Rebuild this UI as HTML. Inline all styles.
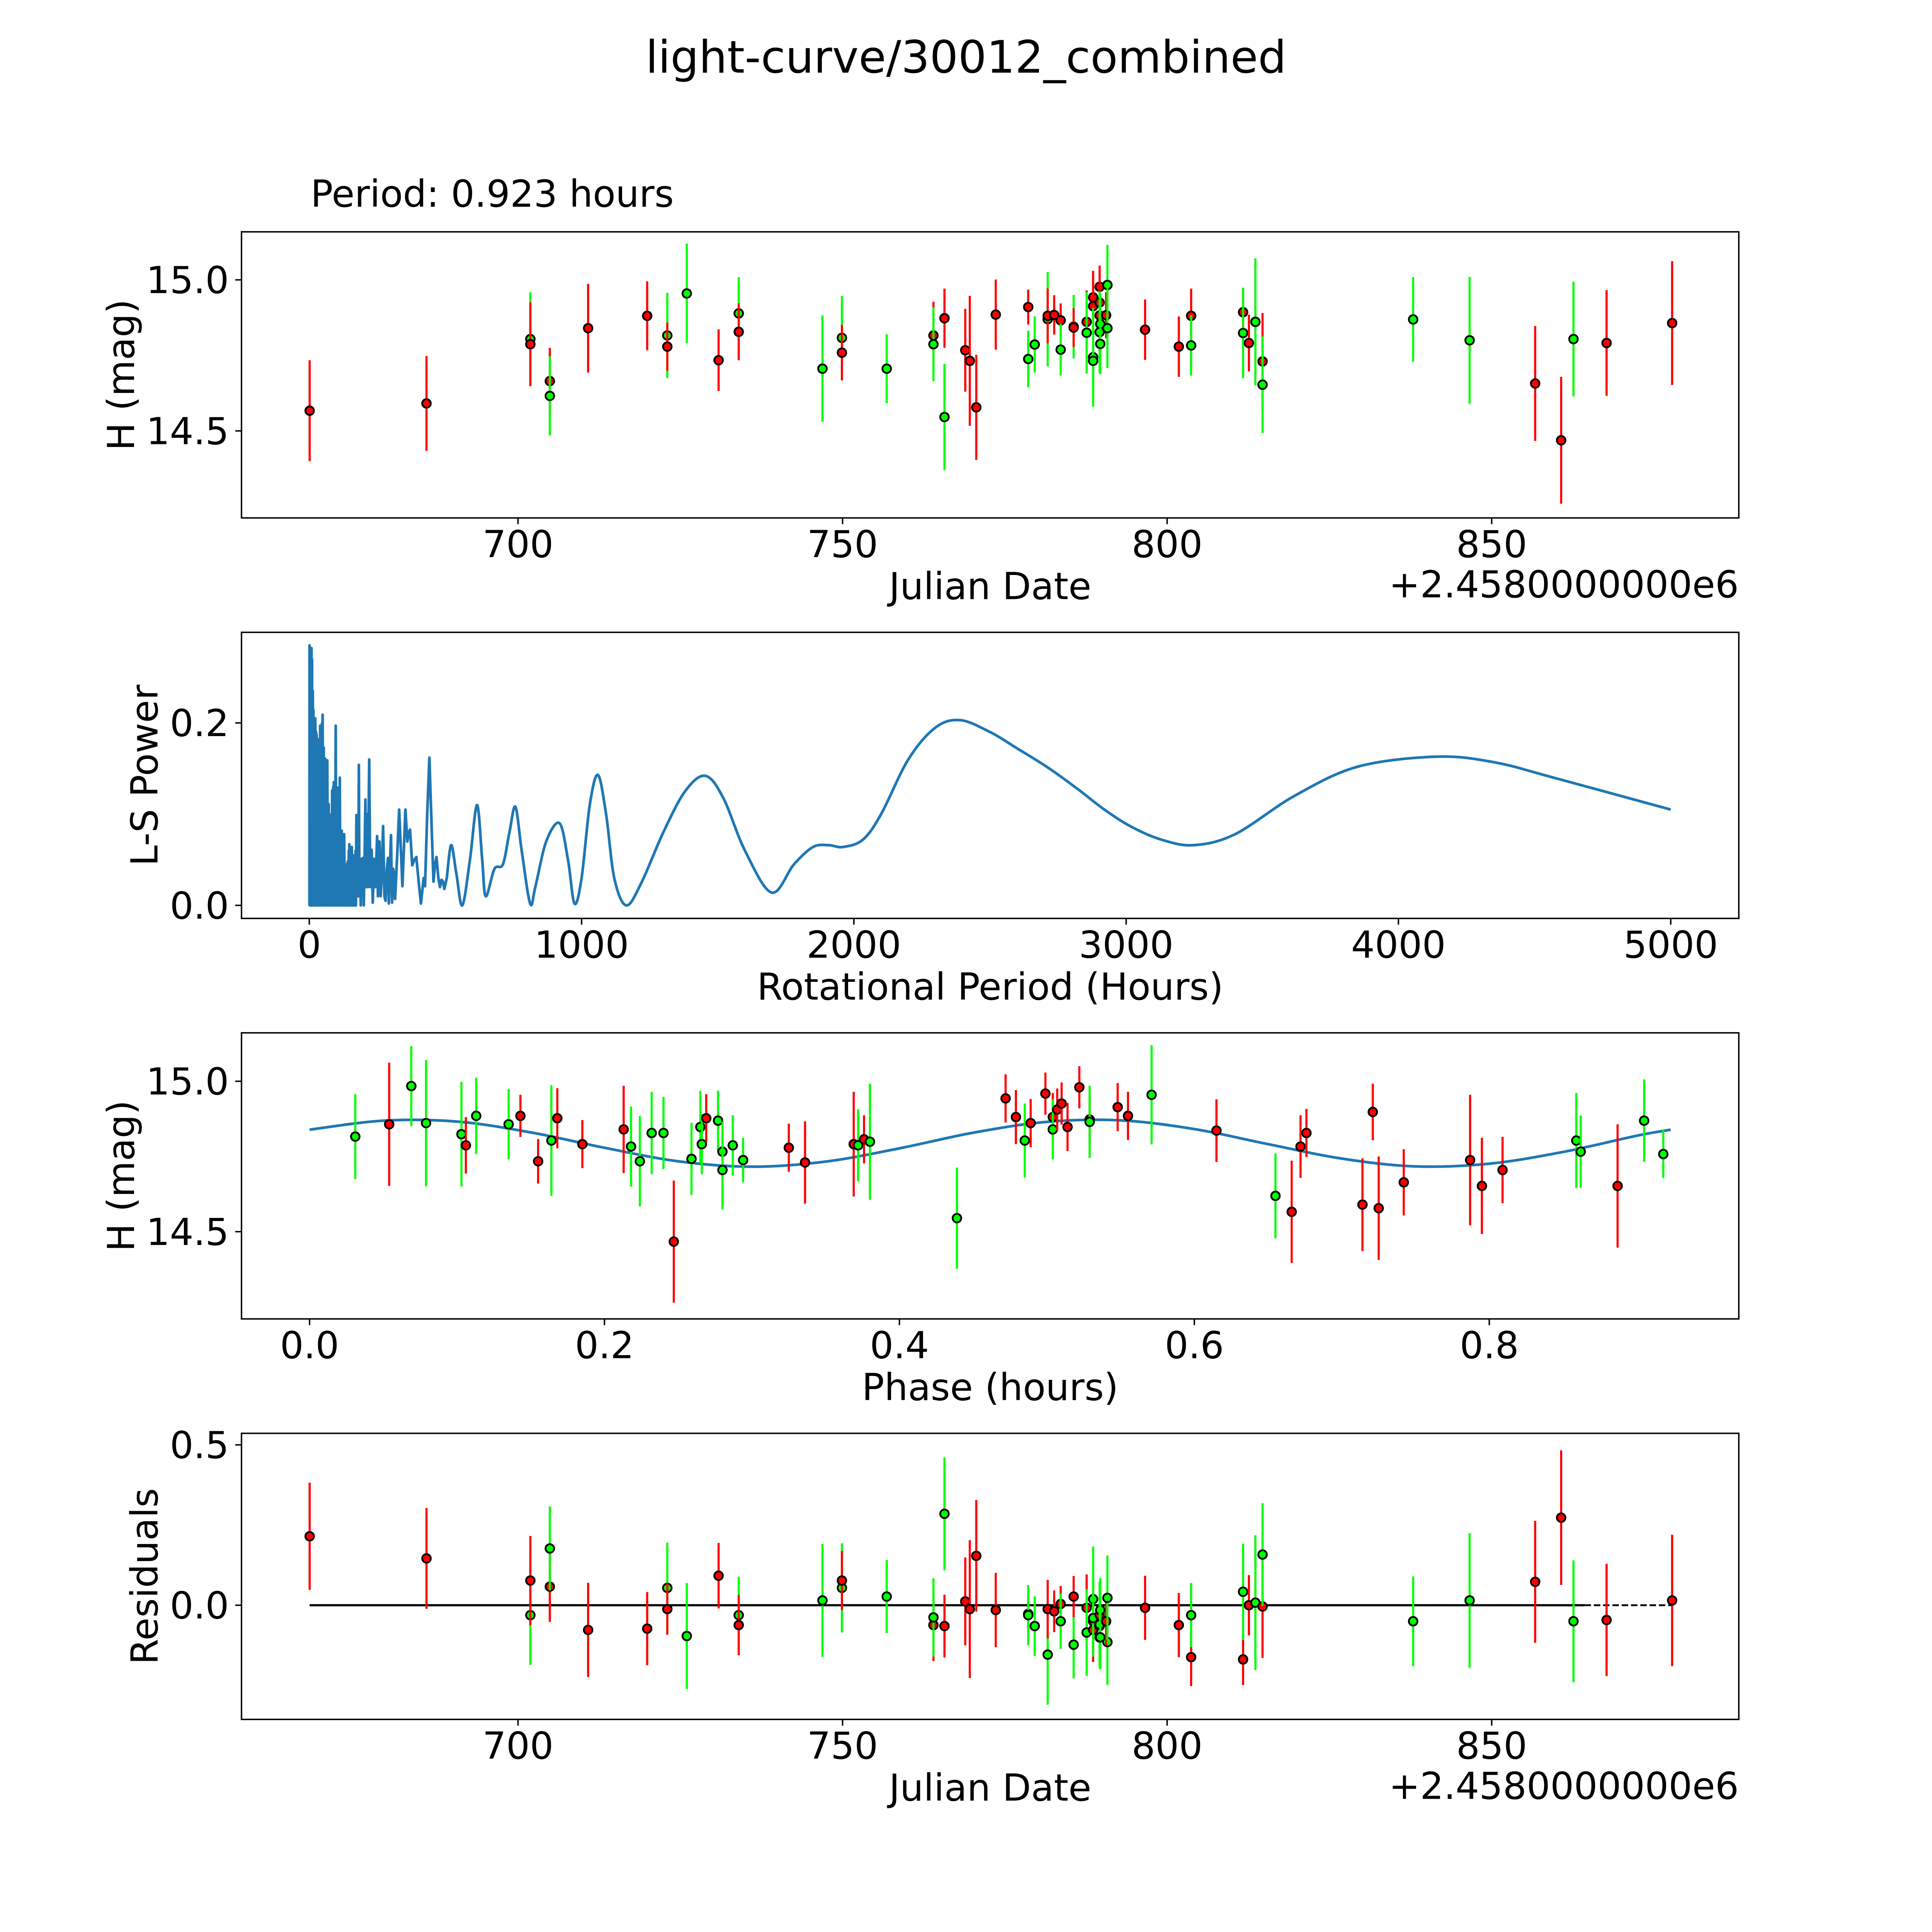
<!DOCTYPE html>
<html><head><meta charset="utf-8"><title>light-curve/30012_combined</title>
<style>html,body{margin:0;padding:0;background:#fff;overflow:hidden;width:100vw;height:100vh;}svg{display:block;width:100vw;height:100vh;}text{font-family:"DejaVu Sans","Liberation Sans",sans-serif;fill:#000;}</style>
</head><body>
<svg id="fig" xmlns="http://www.w3.org/2000/svg" viewBox="0 0 5400 5400" preserveAspectRatio="none">
<rect width="5400" height="5400" fill="#fff"/>
<text x="2700" y="203" font-size="125" text-anchor="middle">light-curve/30012_combined</text>
<text x="868" y="578" font-size="104">Period: 0.923 hours</text>
</svg>
<script>
// ---- light curve data (Julian date offset, H mag, error, filter color) ----
const dates=[667.9,685.9,701.9,701.9,704.9,704.9,710.8,719.9,723.0,723.0,726.0,730.9,734.0,734.0,746.9,749.9,749.9,756.8,764.0,764.0,765.7,765.7,768.9,769.6,770.6,773.6,778.6,778.6,779.6,781.6,781.6,782.6,783.6,783.6,785.6,785.6,787.6,787.6,788.6,788.6,788.6,788.6,789.6,789.6,789.6,789.7,789.6,789.7,790.8,790.6,790.8,796.6,801.8,803.7,803.7,811.7,811.7,812.6,813.6,814.7,814.7,837.9,846.6,856.7,860.7,862.6,867.7,877.8];
const mags=[14.567,14.591,14.804,14.787,14.665,14.616,14.840,14.881,14.816,14.779,14.955,14.734,14.889,14.828,14.706,14.808,14.759,14.706,14.816,14.787,14.873,14.546,14.767,14.732,14.578,14.885,14.910,14.738,14.786,14.870,14.881,14.884,14.866,14.769,14.845,14.842,14.861,14.825,14.942,14.913,14.744,14.732,14.977,14.925,14.882,14.854,14.827,14.788,14.983,14.883,14.840,14.835,14.779,14.881,14.783,14.893,14.824,14.791,14.861,14.730,14.653,14.869,14.800,14.657,14.469,14.804,14.791,14.857];
const magErrs=[.167,.157,.155,.139,.110,.131,.147,.114,.141,.080,.165,.102,.12,.094,.176,.139,.092,.114,.112,.122,.098,.176,.137,.215,.174,.116,.058,.094,.093,.156,.091,.065,.056,.086,.105,.064,.104,.135,.088,.1,.164,.12,.07,.105,.1,.1,.134,.1,.133,.076,.132,.1,.1,.09,.1,.08,.15,.094,.21,.16,.16,.14,.21,.19,.21,.19,.175,.205];
const filterColors="rrgrrgrrgrgrgrggrgrgrgrrrrrgggrrrggrrgrrggrrrggggrgrrrgrgrgrgggrrgrr".split("");
const residuals=[0.215,0.146,-0.031,0.077,0.058,0.177,-0.077,-0.073,0.054,-0.012,-0.096,0.092,-0.031,-0.062,0.015,0.054,0.077,0.027,-0.062,-0.038,-0.065,0.285,0.012,-0.012,0.154,-0.015,-0.027,-0.031,-0.065,-0.154,-0.012,-0.019,0.004,-0.050,-0.123,0.027,-0.008,-0.085,-0.050,-0.077,0.019,-0.04,-0.1,-0.065,-0.03,-0.015,-0.06,-0.1,-0.115,-0.05,0.023,-0.008,-0.062,-0.162,-0.031,-0.169,0.042,0.0,0.008,-0.004,0.158,-0.05,0.015,0.073,0.273,-0.05,-0.046,0.015];
const residZeroSolid=[667.9,864.3];
const residZeroDashed=[864.3,877.8];
// ---- phased data ----
const phases=[0.031,0.054,0.069,0.079,0.103,0.106,0.113,0.135,0.143,0.155,0.164,0.168,0.185,0.213,0.218,0.224,0.232,0.24,0.247,0.259,0.265,0.266,0.269,0.277,0.28,0.28,0.287,0.294,0.325,0.336,0.369,0.372,0.376,0.38,0.439,0.472,0.479,0.485,0.489,0.499,0.504,0.504,0.507,0.510,0.514,0.522,0.529,0.529,0.548,0.555,0.571,0.615,0.655,0.666,0.672,0.676,0.714,0.721,0.725,0.742,0.787,0.795,0.809,0.859,0.862,0.887,0.905,0.918];
const phaseMags=[14.816,14.857,14.984,14.861,14.824,14.787,14.885,14.857,14.885,14.734,14.803,14.877,14.791,14.84,14.783,14.734,14.828,14.828,14.467,14.742,14.848,14.791,14.877,14.869,14.766,14.705,14.787,14.738,14.779,14.73,14.791,14.787,14.807,14.799,14.545,14.943,14.881,14.803,14.861,14.959,14.881,14.84,14.906,14.926,14.848,14.98,14.873,14.865,14.914,14.885,14.955,14.836,14.619,14.566,14.783,14.828,14.59,14.898,14.578,14.664,14.738,14.652,14.705,14.803,14.766,14.652,14.869,14.758];
const phaseErrs=[.141,.205,.133,.21,.174,.094,.127,.117,.07,.074,.184,.1,.08,.145,.133,.15,.137,.12,.203,.12,.12,.1,.08,.1,.1,.131,.1,.074,.08,.137,.174,.12,.08,.193,.168,.08,.09,.123,.08,.07,.08,.1,.07,.07,.08,.07,.08,.12,.08,.08,.165,.104,.141,.17,.104,.08,.154,.094,.172,.11,.217,.16,.11,.158,.12,.205,.137,.08];
const phaseColors="grgggrggrrgrrrggggrgggrgggggrrrgrggrrgrrrgrrrrrgrrgrgrrrrrrrrrrggrggr".split("");
const modelPhases=[0,0.05,0.10,0.15,0.20,0.25,0.30,0.35,0.40,0.45,0.50,0.55,0.60,0.65,0.70,0.75,0.80,0.85,0.90,0.923];
const modelMags=[14.839,14.869,14.866,14.830,14.779,14.734,14.716,14.733,14.777,14.829,14.865,14.870,14.841,14.791,14.743,14.717,14.726,14.765,14.819,14.839];
// ---- periodogram ----
const lsPeriods=[0.6,0.8,2,3,4,5,6,8,9,10,11,12.9,14,15,17,19,20,22,24,25,26,27,29,31,32,33,35,37,38,40,42,44,45,47,48,49,51,53,55,58,60,62,64,66,68,71,73,75,76,77,79,81,82,84,86,88,89,90,92,94,95,97,99,101,103,106,108,110,111,112,114,116,117,119,121,123,125,128,130,132,133,134,136,138,139,141,143,145,146,147,149,151,153,156,158,160,162,165,167,170,171,173,175,178,180,182,184,187,189,191,194,197,200,203,206,209,212,215,220,224,226,229,233,238,243,249,252,255,258,262,266,271,276,280,285,289,292,296,300,304,308,311,315,322,330,342,353,360,365,370,378,386,393,402,410,420,425,433,441,450,456,462,467,474,480,486,491,496,505];
const lsPowers=[0,0.285,0,0.28,0,0.28,0,0.282,0,0.27,0,0.235,0,0.214,0,0.2,0,0.205,0,0.19,0,0.187,0,0.17,0,0.182,0,0.16,0,0.197,0,0.19,0,0.2,0,0.209,0,0.173,0,0.161,0,0.12,0,0.159,0,0.111,0,0.09,0,0.087,0,0.1,0,0.126,0,0.13,0,0.135,0,0.11,0,0.197,0,0.09,0,0.129,0,0.12,0,0.14,0,0.07,0,0.082,0,0.05,0,0.078,0,0.04,0,0.043,0,0.045,0,0.048,0,0.06,0,0.067,0,0.05,0,0.064,0,0.055,0,0.053,0,0.06,0,0.099,0.01,0.05,0.01,0.154,0.01,0.05,0,0.051,0.02,0.052,0,0.05,0.116,0.02,0.100,0.02,0.160,0.02,0.03,0.061,0.003,0.051,0.02,0.076,0.01,0.07,0.070,0.01,0.03,0.087,0.01,0.005,0.04,0.052,0.002,0.04,0.077,0.003,0.04,0.036,0.007,0.05,0.105,0.021,0.105,0.07,0.08,0.083,0.044,0.05,0.053,0.025,0.002,0.03,0.021,0.1,0.162,0.08,0.026,0.045,0.053,0.03,0.02,0.028,0.026,0.018,0.03];
const lsSmoothPeriods=[505,521,540,562,590,616,635,648,680,711,735,757,780,811,830,870,919,950,974,1000,1030,1060,1090,1120,1164,1220,1300,1380,1454,1520,1600,1698,1780,1850,1907,1960,2033,2100,2200,2300,2391,2500,2600,2713,2820,2920,3020,3130,3248,3400,3618,3850,4139,4350,4570,5000];
const lsSmoothPowers=[0.03,0.066,0.035,0.0,0.05,0.11,0.05,0.01,0.04,0.045,0.08,0.108,0.06,0.002,0.02,0.07,0.09,0.05,0.002,0.03,0.11,0.143,0.1,0.03,0.0,0.025,0.08,0.125,0.142,0.118,0.06,0.014,0.045,0.064,0.066,0.064,0.072,0.1,0.16,0.195,0.203,0.19,0.172,0.151,0.128,0.105,0.086,0.072,0.066,0.078,0.12,0.152,0.163,0.157,0.14,0.105];
// ---- ticks ----
const dateTicks=[700,750,800,850];
const magTicks=[15.0,14.5];
const periodTicks=[0,1000,2000,3000,4000,5000];
const powerTicks=[0.0,0.2];
const phaseTicks=[0.0,0.2,0.4,0.6,0.8];
const residTicks=[0.5,0.0];

const NS="http://www.w3.org/2000/svg";
const svg=document.getElementById('fig');
const COL={r:'#ff0000',g:'#00ff00'};
const FS=104;
function el(tag,attrs,parent){const e=document.createElementNS(NS,tag);for(const k in attrs)e.setAttribute(k,attrs[k]);(parent||svg).appendChild(e);return e;}
function lin(d0,d1,p0,p1){return v=>p0+(v-d0)/(d1-d0)*(p1-p0);}
const L=675,R=4860,H=799.6;
const tops=[648,1767.4,2886.8,4006.2];
function makeAxes(i,xlim,ylim){const t=tops[i];return {x:lin(xlim[0],xlim[1],L,R),y:lin(ylim[0],ylim[1],t+H,t),top:t,bot:t+H};}
const ax1=makeAxes(0,[657.4,888.07],[14.212,15.159]);
const ax2=makeAxes(1,[-249,5250],[-0.0143,0.2993]);
const ax3=makeAxes(2,[-0.04615,0.9692],[14.210,15.161]);
const ax4=makeAxes(3,[657.4,888.07],[-0.356,0.536]);

function frame(ax,name){
  const g=el('g',{});
  
  
  el('rect',{x:L,y:ax.top,width:R-L,height:H,fill:'none',stroke:'#000','stroke-width':4},g);
}
function xTicks(ax,ticks,fmt,name){
  const g=el('g',{});
  
  
  ticks.forEach(v=>{const x=ax.x(v);
    el('line',{x1:x,x2:x,y1:ax.bot,y2:ax.bot+17.5,stroke:'#000','stroke-width':4},g);
    const t=el('text',{x:x,y:ax.bot+110,'font-size':FS,'text-anchor':'middle'},g);t.textContent=fmt(v);
    
    
  });
}
function yTicks(ax,ticks,fmt,name){
  const g=el('g',{});
  
  
  ticks.forEach(v=>{const y=ax.y(v);
    el('line',{x1:L-17.5,x2:L,y1:y,y2:y,stroke:'#000','stroke-width':4},g);
    const t=el('text',{x:640,y:y+37,'font-size':FS,'text-anchor':'end'},g);t.textContent=fmt(v);
    
    
  });
}
function xLabel(ax,txt,name){const t=el('text',{x:(L+R)/2,y:ax.bot+227,'font-size':FS,'text-anchor':'middle'});t.textContent=txt;
  
  }
function yLabel(ax,txt,bx,name){const cy=(ax.top+ax.bot)/2;const t=el('text',{x:0,y:0,'font-size':FS,'text-anchor':'middle',transform:'translate('+bx+','+cy+') rotate(-90)'});t.textContent=txt;
  
  }
function offsetText(ax){const t=el('text',{x:R,y:ax.bot+222,'font-size':FS,'text-anchor':'end'});t.textContent='+2.4580000000e6';
  
  }
function clipFor(ax,id){const cp=el('clipPath',{id:id});el('rect',{x:L,y:ax.top,width:R-L,height:H},cp);return 'url(#'+id+')';}
function errPoints(ax,xs,ys,es,cs,name){
  const g=el('g',{'clip-path':clipFor(ax,name+'-clip')});
  
  
  xs.forEach((xv,i)=>{const x=ax.x(xv);
    const b=el('line',{x1:x,x2:x,y1:ax.y(ys[i]-es[i]),y2:ax.y(ys[i]+es[i]),stroke:COL[cs[i]],'stroke-width':6},g);
    
    
    const c=el('circle',{cx:x,cy:ax.y(ys[i]),r:12,fill:COL[cs[i]],stroke:'#000','stroke-width':5},g);
    
    
  });
}
function smoothPath(pts){let d='M'+pts[0][0]+','+pts[0][1];
  for(let i=0;i<pts.length-1;i++){const p0=pts[Math.max(0,i-1)],p1=pts[i],p2=pts[i+1],p3=pts[Math.min(pts.length-1,i+2)];
    const c1=[p1[0]+(p2[0]-p0[0])/6,p1[1]+(p2[1]-p0[1])/6],c2=[p2[0]-(p3[0]-p1[0])/6,p2[1]-(p3[1]-p1[1])/6];
    d+=' C'+c1[0]+','+c1[1]+' '+c2[0]+','+c2[1]+' '+p2[0]+','+p2[1];}
  return d;}

// ===== Panel 1: light curve =====
frame(ax1,'light-curve');
errPoints(ax1,dates,mags,magErrs,filterColors,'light-curve-points');
xTicks(ax1,dateTicks,v=>String(v),'light-curve-x-ticks');
yTicks(ax1,magTicks,v=>v.toFixed(1),'light-curve-y-ticks');
xLabel(ax1,'Julian Date','light-curve-x-axis-title');
yLabel(ax1,'H (mag)',375,'light-curve-y-axis-title');
offsetText(ax1);

// ===== Panel 2: periodogram =====
frame(ax2,'periodogram');
{const g=el('g',{'clip-path':clipFor(ax2,'ls-clip'),fill:'none',stroke:'#1f77b4','stroke-width':7.5,'stroke-linejoin':'round'});
 
 
 let d='';lsPeriods.forEach((p,i)=>{d+=(i?'L':'M')+ax2.x(p)+','+ax2.y(lsPowers[i]);});
 el('path',{d:d},g);
 el('path',{d:smoothPath(lsSmoothPeriods.map((p,i)=>[ax2.x(p),ax2.y(lsSmoothPowers[i])]))},g);}
xTicks(ax2,periodTicks,v=>String(v),'periodogram-x-ticks');
yTicks(ax2,powerTicks,v=>v.toFixed(1),'periodogram-y-ticks');
xLabel(ax2,'Rotational Period (Hours)','periodogram-x-axis-title');
yLabel(ax2,'L-S Power',440,'periodogram-y-axis-title');

// ===== Panel 3: phased =====
frame(ax3,'phased');
{const p=el('path',{d:smoothPath(modelPhases.map((v,i)=>[ax3.x(v),ax3.y(modelMags[i])])),fill:'none',stroke:'#1f77b4','stroke-width':7.5});
 
 }
errPoints(ax3,phases,phaseMags,phaseErrs,phaseColors,'phased-points');
xTicks(ax3,phaseTicks,v=>v.toFixed(1),'phased-x-ticks');
yTicks(ax3,magTicks,v=>v.toFixed(1),'phased-y-ticks');
xLabel(ax3,'Phase (hours)','phased-x-axis-title');
yLabel(ax3,'H (mag)',375,'phased-y-axis-title');

// ===== Panel 4: residuals =====
frame(ax4,'residuals');
{const z1=el('line',{x1:ax4.x(residZeroSolid[0]),x2:ax4.x(residZeroSolid[1]),y1:ax4.y(0),y2:ax4.y(0),stroke:'#000','stroke-width':6});
 
 
 const z2=el('line',{x1:ax4.x(residZeroDashed[0]),x2:ax4.x(residZeroDashed[1]),y1:ax4.y(0),y2:ax4.y(0),stroke:'#000','stroke-width':5,'stroke-dasharray':'18,8'});
 
 }
errPoints(ax4,dates,residuals,magErrs,filterColors,'residual-points');
xTicks(ax4,dateTicks,v=>String(v),'residuals-x-ticks');
yTicks(ax4,residTicks,v=>v.toFixed(1),'residuals-y-ticks');
xLabel(ax4,'Julian Date','residuals-x-axis-title');
yLabel(ax4,'Residuals',440,'residuals-y-axis-title');
offsetText(ax4);
</script>
</body></html>
